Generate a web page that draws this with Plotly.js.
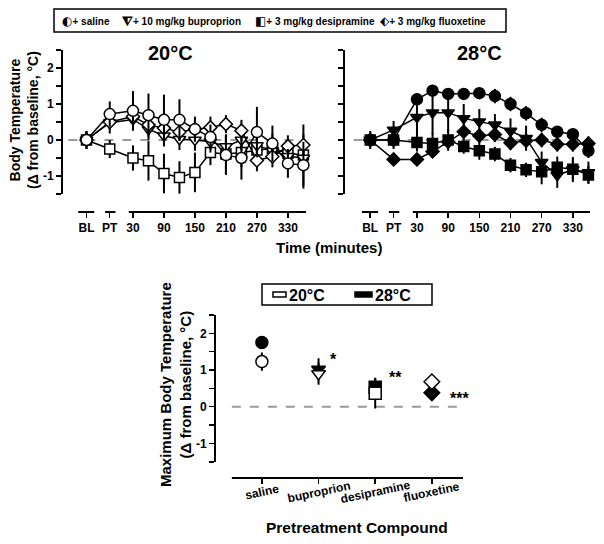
<!DOCTYPE html>
<html>
<head>
<meta charset="utf-8">
<script src="https://cdn.plot.ly/plotly-3.0.1.min.js"></script>
<style>html,body{margin:0;padding:0;background:#fff;}#chart{width:604px;height:544px;}</style>
</head>
<body>
<div id="chart"></div>
<script>
// ---- data ----
const timeX = [-60, -15, 30, 60, 90, 120, 150, 180, 210, 240, 270, 300, 330, 360];
const timeTickVals = [-60, -15, 30, 90, 150, 210, 270, 330];
const timeTickText = ['BL', 'PT', '30', '90', '150', '210', '270', '330'];

// 20 °C panel
const sal20  = [0, 0.72, 0.81, 0.69, 0.56, 0.56, 0.30, 0.08, -0.42, -0.50, 0.22, -0.10, -0.65, -0.70];
const sal20e = [0.25, 0.35, 0.55, 0.60, 0.70, 0.57, 0.35, 0.35, 0.55, 0.60, 0.70, 0.50, 0.40, 0.65];
const bup20  = [0, 0.48, 0.57, 0.30, 0.12, 0.02, 0.00, -0.05, -0.18, 0.00, -0.15, -0.30, -0.45, -0.50];
const bup20e = [0.20, 0.30, 0.30, 0.30, 0.30, 0.30, 0.30, 0.30, 0.30, 0.30, 0.30, 0.30, 0.30, 0.30];
const des20  = [0, -0.25, -0.50, -0.58, -0.93, -1.04, -0.90, -0.35, -0.39, -0.35, -0.28, -0.23, -0.37, -0.42];
const des20e = [0.25, 0.25, 0.35, 0.55, 0.55, 0.45, 0.55, 0.35, 0.55, 0.40, 0.45, 0.40, 0.40, 0.85];
const flx20  = [0, 0.50, 0.65, 0.42, 0.33, 0.22, 0.30, 0.35, 0.44, 0.26, -0.57, -0.46, -0.17, -0.14];
const flx20e = [0.20, 0.20, 0.20, 0.20, 0.20, 0.25, 0.30, 0.30, 0.25, 0.30, 0.30, 0.30, 0.30, 0.30];

// 28 °C panel
const sal28  = [0, 0, 1.13, 1.37, 1.28, 1.28, 1.30, 1.22, 1.00, 0.74, 0.42, 0.23, 0.16, -0.30];
const sal28e = [0.20, 0.20, 0.15, 0.10, 0.15, 0.15, 0.15, 0.20, 0.20, 0.20, 0.20, 0.15, 0.15, 0.20];
const bup28  = [0, 0.28, 0.63, 0.76, 0.76, 0.60, 0.51, 0.42, 0.25, 0.05, -0.62, -0.98, -0.82, -0.90];
const bup28e = [0.20, 0.25, 0.60, 0.60, 0.55, 0.40, 0.35, 0.30, 0.35, 0.35, 0.30, 0.35, 0.35, 0.30];
const des28  = [0, 0, -0.07, -0.10, 0.00, -0.18, -0.30, -0.39, -0.70, -0.83, -0.88, -0.76, -0.81, -0.97];
const des28e = [0.25, 0.25, 0.25, 0.30, 0.30, 0.20, 0.25, 0.20, 0.20, 0.20, 0.35, 0.30, 0.30, 0.25];
const flx28  = [0, -0.54, -0.54, -0.32, -0.05, 0.23, 0.12, 0.15, -0.08, -0.02, 0.00, -0.12, -0.12, -0.10];
const flx28e = [0.15, 0.15, 0.15, 0.15, 0.15, 0.20, 0.20, 0.20, 0.20, 0.20, 0.20, 0.20, 0.20, 0.20];

// bottom panel: maximum body temperature
const compounds = ['saline', 'buproprion', 'desipramine', 'fluoxetine'];
const compoundSymbols = ['circle', 'triangle-down', 'square', 'diamond'];
const max20  = [1.23, 0.90, 0.37, 0.68];
const max20e = [0.25, 0.30, 0.42, 0.05];
const max28  = [1.75, 1.02, 0.53, 0.38];
const max28e = [0.08, 0.30, 0.25, 0.05];
const sigMarks = ['', '*', '**', '***'];
const sigX = [0, 1.16, 2.20, 3.28];
const sigY = [0, 1.30, 0.80, 0.22];

const yTickVals = [-1.5, -1, -0.5, 0, 0.5, 1, 1.5, 2, 2.5];
const yTickText = ['', '-1', '', '0', '', '1', '', '2', ''];

const legendSymbols = ['◐', '⧨', '◧', '⬖'];
const legendTop = ['+ saline', '+ 10 mg/kg buproprion', '+ 3 mg/kg desipramine', '+ 3 mg/kg fluoxetine'];
const legendBottom = ['20°C', '28°C'];

// ---- styling ----
const FONT = 'Liberation Sans, Arial, Helvetica, sans-serif';
const bold = (s) => ({family: FONT, size: s, color: '#000', weight: 700});

function series(x, y, e, sym, size, filled, xa, ya) {
  return {
    x: x, y: y, xaxis: xa, yaxis: ya, type: 'scatter', mode: 'lines+markers',
    showlegend: false, cliponaxis: false,
    line: {color: '#000', width: 1.5},
    marker: {symbol: sym, size: size, color: filled ? '#000' : '#fff', line: {color: '#000', width: 1.5}},
    error_y: {type: 'data', array: e, visible: true, color: '#000', thickness: 2, width: 0}
  };
}
function points(x, y, e, syms, size, filled) {
  return {
    x: x, y: y, xaxis: 'x3', yaxis: 'y3', type: 'scatter', mode: 'markers',
    showlegend: false, cliponaxis: false,
    marker: {symbol: syms, size: size, color: filled ? '#000' : '#fff', line: {color: '#000', width: 1.5}},
    error_y: {type: 'data', array: e, visible: true, color: '#000', thickness: 2, width: 0}
  };
}

const catX = compounds.map((c, i) => i);

const traces = [
  series(timeX, des20, des20e, 'square', 10, false, 'x', 'y'),
  series(timeX, bup20, bup20e, 'triangle-down', 11, false, 'x', 'y'),
  series(timeX, flx20, flx20e, 'diamond', 10, false, 'x', 'y'),
  series(timeX, sal20, sal20e, 'circle', 11, false, 'x', 'y'),
  series(timeX, des28, des28e, 'square', 10, true, 'x2', 'y2'),
  series(timeX, bup28, bup28e, 'triangle-down', 11, true, 'x2', 'y2'),
  series(timeX, flx28, flx28e, 'diamond', 10, true, 'x2', 'y2'),
  series(timeX, sal28, sal28e, 'circle', 11, true, 'x2', 'y2'),
  points(catX, max28, max28e, compoundSymbols, 12, true),
  points(catX, max20, max20e, compoundSymbols, 12, false)
];

function yAxis(domain, anchor, labels) {
  return {
    domain: domain, range: [-1.5, 2.5], anchor: anchor,
    showline: true, linewidth: 2, linecolor: '#000',
    ticks: 'outside', ticklen: 5, tickwidth: 1.5, tickcolor: '#000',
    tickvals: yTickVals, ticktext: yTickText, showticklabels: labels,
    tickfont: bold(12), showgrid: false, zeroline: false, fixedrange: true
  };
}
function xAxis(domain, range, pos, tv, tt, labels) {
  return {
    domain: domain, range: range, anchor: 'free', position: pos,
    showline: false, ticks: 'outside', ticklen: 5, tickwidth: 1.5, tickcolor: '#000',
    tickvals: tv, ticktext: tt, showticklabels: labels, tickangle: 0,
    tickfont: bold(12), showgrid: false, zeroline: false, fixedrange: true
  };
}

const TOPX = 0.6103, BOTX = 0.1213;
const shapes = [];
function hseg(xref, x0, x1, y) {
  shapes.push({type: 'line', xref: xref, yref: 'paper', x0: x0, x1: x1, y0: y, y1: y, line: {color: '#000', width: 2}});
}
['x', 'x2'].forEach(xr => {
  hseg(xr, -76, -45, TOPX);
  hseg(xr, -24, -4, TOPX);
  hseg(xr, 22, 365, TOPX);
});
hseg('x3', -0.53, 3.55, BOTX);
// dashed baseline
shapes.push({type: 'line', xref: 'x', yref: 'y', x0: -95, x1: 365, y0: 0, y1: 0, layer: 'below', line: {color: '#9a9a9a', width: 2, dash: 'dash'}});
shapes.push({type: 'line', xref: 'x2', yref: 'y2', x0: -92, x1: 360, y0: 0, y1: 0, layer: 'below', line: {color: '#9a9a9a', width: 2, dash: 'dash'}});
shapes.push({type: 'line', xref: 'x3', yref: 'y3', x0: -0.53, x1: 3.55, y0: 0, y1: 0, layer: 'below', line: {color: '#9a9a9a', width: 2, dash: 'dash'}});
// top legend box
const W = 604, H = 544;
const px = (v) => v / W, py = (v) => 1 - v / H;
shapes.push({type: 'rect', xref: 'paper', yref: 'paper', x0: px(54), x1: px(506), y0: py(32), y1: py(9), line: {color: '#000', width: 1.5}});
// bottom legend box and swatches
shapes.push({type: 'rect', xref: 'paper', yref: 'paper', x0: px(262), x1: px(432), y0: py(305), y1: py(284), line: {color: '#000', width: 1.5}});
shapes.push({type: 'rect', xref: 'paper', yref: 'paper', x0: px(273), x1: px(286), y0: py(297), y1: py(292), fillcolor: '#fff', line: {color: '#000', width: 1.5}});
shapes.push({type: 'rect', xref: 'paper', yref: 'paper', x0: px(355), x1: px(372), y0: py(297), y1: py(292), fillcolor: '#000', line: {color: '#000', width: 1.5}});

const annotations = [];
function ann(x, y, text, size, opts) {
  annotations.push(Object.assign({xref: 'paper', yref: 'paper', x: px(x), y: py(y), text: text, showarrow: false,
    font: bold(size), xanchor: 'center', yanchor: 'middle'}, opts || {}));
}
// top legend entries
const legX = [60, 119, 253, 378];
legendTop.forEach((t, i) => ann(legX[i], 20.5,
  '<span style="font-family:\'DejaVu Sans\';font-size:12px">' + legendSymbols[i] + '</span>' + t, 10, {xanchor: 'left'}));
// bottom legend entries
ann(287, 295, legendBottom[0], 16, {xanchor: 'left'});
ann(373, 295, legendBottom[1], 16, {xanchor: 'left'});
// panel titles
ann(170, 53, '20°C', 20);
ann(479, 53, '28°C', 20);
// axis titles
ann(24, 120, 'Body Temperature<br>(Δ from baseline, °C)', 14, {textangle: -90});
ann(329, 247, 'Time (minutes)', 15);
ann(175, 385, 'Maximum Body Temperature<br>(Δ from baseline, °C)', 15, {textangle: -90});
ann(357, 527, 'Pretreatment Compound', 15.5);
// bottom category labels (slanted)
compounds.forEach((c, i) => {
  annotations.push({xref: 'x3', yref: 'paper', x: catX[i], y: py(492), text: c, showarrow: false,
    font: bold(12), textangle: -12, xanchor: 'center', yanchor: 'middle'});
});
// significance marks
sigMarks.forEach((s, i) => {
  if (!s) return;
  annotations.push({xref: 'x3', yref: 'y3', x: sigX[i], y: sigY[i], text: s, showarrow: false,
    font: bold(16), xanchor: 'left', yanchor: 'middle'});
});

const layout = {
  width: W, height: H, margin: {l: 0, r: 0, t: 0, b: 0},
  paper_bgcolor: '#fff', plot_bgcolor: 'rgba(0,0,0,0)',
  showlegend: false, font: {family: FONT, color: '#000'},
  xaxis: xAxis([0.1043, 0.5083], [-105.5, 367], TOPX, timeTickVals, timeTickText, true),
  yaxis: yAxis([0.6434, 0.9081], 'x', true),
  xaxis2: xAxis([0.5712, 0.9768], [-108.5, 363], TOPX, timeTickVals, timeTickText, true),
  yaxis2: yAxis([0.6434, 0.9081], 'x2', false),
  xaxis3: xAxis([0.3576, 0.7666], [-0.81, 3.55], BOTX, catX, compounds, false),
  yaxis3: yAxis([0.1511, 0.4210], 'x3', true),
  shapes: shapes, annotations: annotations
};

Plotly.newPlot('chart', traces, layout, {staticPlot: true, displayModeBar: false});
</script>
</body>
</html>
